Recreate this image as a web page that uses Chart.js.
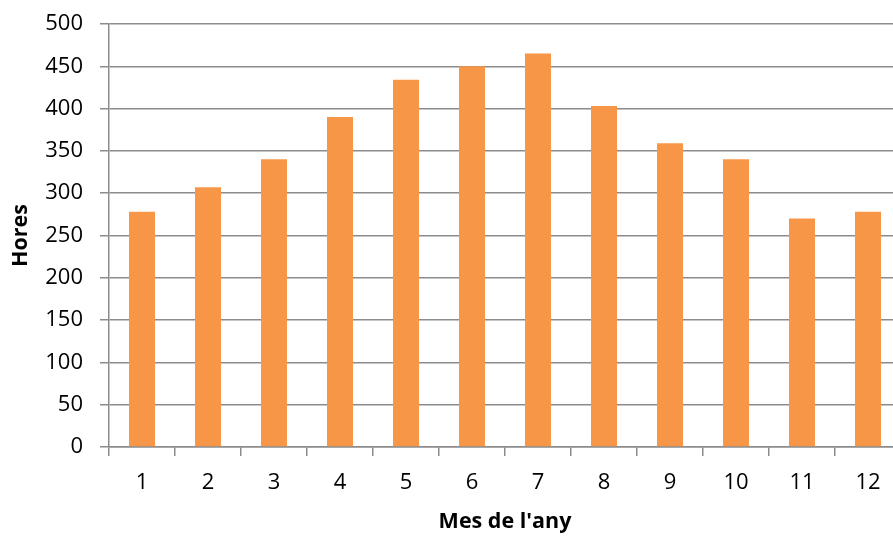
<!DOCTYPE html>
<html>
<head>
<meta charset="utf-8">
<script src="https://cdn.jsdelivr.net/npm/chart.js@4/dist/chart.umd.min.js"></script>
<style>
  html, body { margin: 0; padding: 0; background: #fff; overflow: hidden; }
  #wrap { width: 901px; height: 537px; }
</style>
</head>
<body>
<div id="wrap"><canvas id="chart" width="901" height="537"></canvas></div>
<script>
// Monthly hours per month of the year
const months = ['1', '2', '3', '4', '5', '6', '7', '8', '9', '10', '11', '12'];
const hours = [278, 307, 340, 390, 434, 450, 465, 403, 359, 340, 270, 278];
const yTicks = [0, 50, 100, 150, 200, 250, 300, 350, 400, 450, 500];

const barColor = '#F79646';
const gridColor = '#8c8c8c';
const tickFont = { family: '"Open Sans", sans-serif', size: 22 };
const titleFont = { family: '"Open Sans", sans-serif', size: 21.5, weight: 'bold' };

new Chart(document.getElementById('chart'), {
  type: 'bar',
  data: {
    labels: months,
    datasets: [{
      data: hours,
      backgroundColor: barColor,
      borderWidth: 0,
      categoryPercentage: 1,
      barPercentage: 0.394
    }]
  },
  options: {
    responsive: false,
    animation: false,
    layout: { padding: { top: 24, right: 0, bottom: 0, left: 0 } },
    plugins: {
      legend: { display: false },
      tooltip: { enabled: false }
    },
    scales: {
      x: {
        afterFit: (scale) => {
          scale.height = 90;
          scale.paddingLeft = 0;
          scale.paddingRight = 0;
        },
        grid: {
          drawOnChartArea: false,
          drawTicks: true,
          tickLength: 9,
          color: gridColor,
          lineWidth: 1.5
        },
        border: { display: true, color: gridColor, width: 1.5 },
        ticks: { color: '#000', font: tickFont, padding: 14, maxRotation: 0 },
        title: {
          display: true,
          text: "Mes de l'any",
          color: '#000',
          font: titleFont,
          padding: { top: 0, bottom: 2 }
        }
      },
      y: {
        min: 0,
        max: 500,
        afterFit: (scale) => {
          scale.width = 109;
          scale.paddingTop = 0;
          scale.paddingBottom = 0;
        },
        afterBuildTicks: (scale) => { scale.ticks = yTicks.map(v => ({ value: v })); },
        grid: {
          color: gridColor,
          lineWidth: 1.5,
          tickLength: 9
        },
        border: { display: true, color: gridColor, width: 1.5 },
        ticks: { color: '#000', font: tickFont, padding: 17 },
        title: {
          display: true,
          text: 'Hores',
          color: '#000',
          font: titleFont,
          padding: { top: 8, bottom: 0 }
        }
      }
    }
  }
});
</script>
</body>
</html>
